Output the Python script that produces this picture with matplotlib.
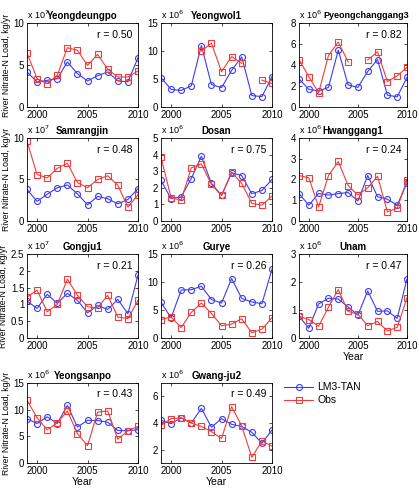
import numpy as np
import matplotlib
matplotlib.use("Agg")
import matplotlib.pyplot as plt

plt.rcParams['font.family'] = ['Liberation Sans', 'DejaVu Sans']

years = list(range(1999, 2011))
nan = np.nan

# station names, r values, y-axis exponent, y limits, y ticks
stations = ["Yeongdeungpo", "Yeongwol1", "Pyeongchanggang3",
            "Samrangjin", "Dosan", "Hwanggang1",
            "Gongju1", "Gurye", "Unam",
            "Yeongsanpo", "Gwang-ju2"]
r_values = ["0.50", None, "0.82", "0.48", "0.75", "0.24",
            "0.21", "0.26", "0.47", "0.43", "0.49"]
exponents = [7, 6, 6, 7, 6, 6, 7, 6, 6, 6, 6]
ylims = [(0, 10), (0, 15), (0, 8), (0, 10), (0, 5), (0, 4),
         (0, 2.5), (0, 15), (0, 3), (0, 15), (1, 7)]
yticks = [[0, 5, 10], [0, 5, 10, 15], [0, 2, 4, 6, 8], [0, 5, 10],
          [0, 1, 2, 3, 4, 5], [0, 1, 2, 3, 4], [0, 0.5, 1, 1.5, 2, 2.5],
          [0, 5, 10, 15], [0, 1, 2, 3], [0, 5, 10, 15], [2, 4, 6]]

# modelled loads (LM3-TAN), in units of 10^exponent kg/yr
lm3_yeongdeungpo = [4.17, 2.98, 3.17, 3.37, 5.36, 3.97, 3.10, 3.73, 4.17, 3.10, 3.00, 5.87]
lm3_yeongwol1 = [5.25, 3.15, 2.96, 3.77, 10.98, 4.00, 3.46, 6.54, 8.95, 2.04, 1.85, 5.43]
lm3_pyeongchang = [2.68, 1.68, 1.52, 1.87, 5.42, 2.10, 1.87, 3.39, 4.52, 1.13, 0.97, 2.81]
lm3_samrangjin = [3.80, 2.36, 3.22, 4.00, 4.34, 3.27, 1.95, 2.97, 2.68, 2.07, 2.60, 3.90]
lm3_dosan = [2.44, 1.34, 1.46, 2.56, 3.90, 2.26, 1.54, 2.90, 2.74, 1.64, 1.84, 2.50]
lm3_hwanggang1 = [1.32, 0.76, 1.33, 1.25, 1.32, 1.37, 0.97, 2.19, 1.17, 1.05, 0.76, 1.84]
lm3_gongju1 = [1.10, 0.88, 1.30, 1.03, 1.33, 1.12, 0.75, 0.97, 0.85, 1.15, 0.72, 1.87]
lm3_gurye = [6.37, 3.60, 8.56, 8.62, 9.25, 6.87, 6.25, 10.62, 7.06, 6.44, 6.12, 12.30]
lm3_unam = [0.78, 0.35, 1.22, 1.42, 1.39, 1.11, 0.82, 1.68, 0.95, 0.97, 0.70, 2.11]
lm3_yeongsanpo = [8.28, 7.40, 8.66, 7.40, 10.80, 6.75, 8.00, 7.96, 7.64, 6.10, 6.05, 6.24]
lm3_gwangju2 = [4.20, 3.95, 4.39, 4.00, 5.10, 3.68, 4.33, 3.90, 3.74, 3.30, 2.48, 3.48]

# observed loads, same units
obs_yeongdeungpo = [6.43, 3.37, 2.78, 3.77, 7.06, 6.75, 4.96, 6.27, 4.48, 3.57, 3.57, 4.29]
obs_yeongwol1 = [nan, nan, nan, nan, 10.0, 11.4, 6.3, 9.0, 7.8, nan, 4.8, 4.2]
obs_pyeongchang = [4.52, 2.90, 1.35, 4.90, 6.19, 4.29, nan, 4.48, 5.26, 2.42, 2.97, 3.77]
obs_samrangjin = [9.59, 5.60, 5.20, 6.34, 6.95, 4.63, 4.00, 5.00, 5.45, 4.30, 1.67, 3.17]
obs_dosan = [3.84, 1.40, 1.26, 3.20, 3.44, 2.20, 1.54, 2.94, 2.26, 1.06, 0.96, 1.50]
obs_hwanggang1 = [2.19, 2.08, 0.68, 2.19, 2.87, 1.71, 1.25, 1.60, 2.16, 0.44, 0.62, 1.97]
obs_gongju1 = [1.22, 1.42, 0.78, 1.00, 1.75, 1.27, 0.93, 0.90, 1.27, 0.62, 0.58, 1.12]
obs_gurye = [3.30, 3.75, 1.87, 4.56, 6.25, 4.37, 2.19, 2.50, 3.44, 0.94, 1.56, 3.62]
obs_unam = [0.78, 0.66, 0.42, 1.10, 1.73, 0.95, 0.85, 0.44, 0.59, 0.25, 0.38, 1.43]
obs_yeongsanpo = [11.78, 8.47, 6.24, 7.50, 9.75, 5.48, 3.25, 9.55, 9.75, 4.46, 6.05, 6.88]
obs_gwangju2 = [3.82, 4.33, 4.39, 4.00, 3.74, 3.35, 2.84, 5.23, 3.77, 1.42, 2.66, 2.26]

lm3_series = [lm3_yeongdeungpo, lm3_yeongwol1, lm3_pyeongchang, lm3_samrangjin,
              lm3_dosan, lm3_hwanggang1, lm3_gongju1, lm3_gurye, lm3_unam,
              lm3_yeongsanpo, lm3_gwangju2]
obs_series = [obs_yeongdeungpo, obs_yeongwol1, obs_pyeongchang, obs_samrangjin,
              obs_dosan, obs_hwanggang1, obs_gongju1, obs_gurye, obs_unam,
              obs_yeongsanpo, obs_gwangju2]

BLUE = '#3c3cf0'
RED = '#f03c3c'
W, H = 419, 488

# axes boxes in pixels: left, top, right, bottom
col_x = [(27, 138), (161, 272), (299, 407)]
row_y = [(23, 107), (138, 221), (254, 338), (383, 463)]

fig = plt.figure(figsize=(W / 100, H / 100), dpi=100)

for i, name in enumerate(stations):
    row, col = divmod(i, 3)
    x0, x1 = col_x[col]
    y0, y1 = row_y[row]
    ax = fig.add_axes([x0 / W, 1 - y1 / H, (x1 - x0) / W, (y1 - y0) / H])

    ax.plot(years, lm3_series[i], '-o', color=BLUE, mfc='none', ms=4.3,
            lw=0.8, mew=0.8, label='LM3-TAN')
    ax.plot(years, obs_series[i], '-s', color=RED, mfc='none', ms=4.3,
            lw=0.8, mew=0.8, label='Obs')

    ax.set_xlim(1999, 2010)
    ax.set_ylim(*ylims[i])
    ax.set_xticks([2000, 2005, 2010])
    ax.set_yticks(yticks[i])
    ax.set_yticklabels([('%g' % t) for t in yticks[i]])
    ax.tick_params(direction='in', labelsize=7, length=2.5, width=0.5,
                   top=True, right=True, pad=2)
    for sp in ax.spines.values():
        sp.set_linewidth(0.6)

    ax.text(0.0, 1.025, r'x 10$^{%d}$' % exponents[i], transform=ax.transAxes,
            fontsize=6.5, ha='left', va='bottom')
    if len(name) > 14:
        # long title sits right-aligned so it clears the exponent label
        ax.text(1.02, 1.03, name, transform=ax.transAxes, fontsize=6.5,
                fontweight='bold', ha='right', va='bottom')
    else:
        ax.set_title(name, fontsize=7, fontweight='bold', pad=3)
    if r_values[i] is not None:
        ax.text(0.95, 0.86, 'r = ' + r_values[i], transform=ax.transAxes,
                fontsize=7.5, ha='right', va='center')

    if col == 0:
        ax.set_ylabel('River Nitrate-N Load, kg/yr', fontsize=6.2, labelpad=2)
    if i in (8, 9, 10):
        ax.set_xlabel('Year', fontsize=7.5, labelpad=1)

handles, labels = ax.get_legend_handles_labels()
fig.legend(handles, labels, loc='upper left',
           bbox_to_anchor=(280 / W, 1 - 378 / H), frameon=False,
           fontsize=7.5, handlelength=2.8, handletextpad=0.4,
           labelspacing=0.3, borderaxespad=0)

fig.savefig('out.png', dpi=100)
